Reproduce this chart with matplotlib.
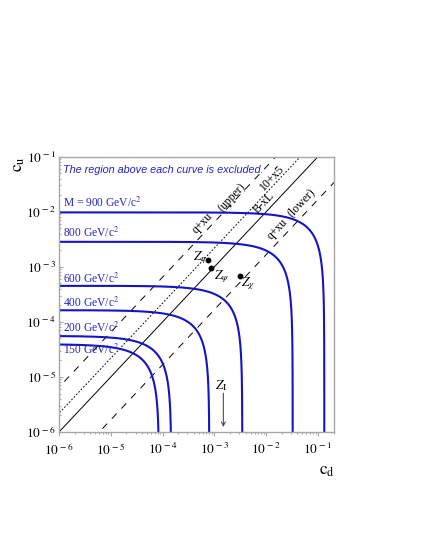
import numpy as np
import matplotlib
matplotlib.use("Agg")
import matplotlib.pyplot as plt
from matplotlib.ticker import LogLocator, FuncFormatter, NullFormatter

plt.rcParams['font.family'] = ['Liberation Serif', 'DejaVu Serif']
plt.rcParams['mathtext.fontset'] = 'stix'
plt.rcParams['lines.scale_dashes'] = False

# ---- data ----
masses = [900, 800, 600, 400, 200, 150]                 # GeV/c^2
cu_plateau = [9.75e-3, 2.85e-3, 4.52e-4, 1.63e-4, 5.56e-5, 3.93e-5]
cd_limit = [1.325e-1, 3.25e-2, 3.46e-3, 7.98e-4, 1.47e-4, 8.53e-5]

line_names = ["q+xu (upper)", "10+x5", "B-xL", "q+xu (lower)"]
line_ratio = [6.5, 2.19, 1.0, 1 / 6.0]                  # cu / cd
line_styles = ["dashed", "dotted", "solid", "dashed"]

model_names = [r"$Z_\eta$", r"$Z_\psi$", r"$Z_\chi$"]
model_cd = [7.7e-4, 8.6e-4, 3.12e-3]
model_cu = [1.32e-3, 9.35e-4, 6.78e-4]
zi_cd = 1.49e-3

xticks = [1e-6, 1e-5, 1e-4, 1e-3, 1e-2, 1e-1]
yticks = [1e-6, 1e-5, 1e-4, 1e-3, 1e-2, 1e-1]

blue = '#1414c4'
tblue = '#2424c8'
gray = '#a8a8a8'

fig = plt.figure(figsize=(4.25, 5.5), dpi=100)
ax = fig.add_axes([59 / 425, 1 - 432 / 550, 275 / 425, (432 - 156.7) / 550])
ax.set_xscale('log')
ax.set_yscale('log')
ax.set_xlim(1e-6, 0.204)
ax.set_ylim(1e-6, 1e-1)

# diagonal model lines
xx = np.logspace(-7, 0, 50)
for r, ls in zip(line_ratio, line_styles):
    if ls == 'dashed':
        kw = dict(linestyle=(0, (5, 5)))
    elif ls == 'dotted':
        kw = dict(linestyle=(0, (1.2, 1.3)))
    else:
        kw = dict(linestyle='-')
    ax.plot(xx, r * xx, color='black', lw=0.7, **kw)

# exclusion curves
s1 = 1 - np.logspace(-9, -0.3, 300)
s2 = np.logspace(-0.3, -8, 300)
s = np.concatenate([s1, s2])
for c0, d0 in zip(cu_plateau, cd_limit):
    ax.plot(d0 * (1 - s), c0 * s, color=blue, lw=1.5, solid_capstyle='butt')

# curve labels
lab_y = [1.23e-2, 3.47e-3, 5.1e-4, 1.87e-4, 6.6e-5, 2.59e-5]
for i, (m, yy) in enumerate(zip(masses, lab_y)):
    txt = (r"M = %d GeV/c$^{2}$" % m) if i == 0 else (r"%d GeV/c$^{2}$" % m)
    ax.text(1.19e-6, yy, txt, color=tblue, fontsize=8.3, ha='left', va='baseline')

ax.text(1.22e-6, 5.0e-2, "The region above each curve is excluded.", color=tblue,
        fontsize=7.8, style='italic', family=['Liberation Sans', 'DejaVu Sans'],
        ha='left', va='baseline')

# line labels
rot = 46.7
lab_pos = [(5.83e-4, 6.3e-3, "q+xu"), (2.16e-3, 1.83e-2, "(upper)"),
           (1.29e-2, 4.1e-2, "10+x5"), (9.27e-3, 1.47e-2, "B-xL"),
           (1.65e-2, 4.85e-3, "q+xu"), (4.77e-2, 1.45e-2, "(lower)")]
for x0, y0, t in lab_pos:
    ax.text(x0, y0, t, rotation=rot, rotation_mode='anchor', ha='center', va='center',
            fontsize=8.5, color='black')

# model points
ax.plot(model_cd, model_cu, 'o', color='black', ms=3.2, linestyle='none')
ax.text(5.27e-4, 1.44e-3, model_names[0], fontsize=9.5, ha='center', va='center')
ax.text(1.38e-3, 6.58e-4, model_names[1], fontsize=9.5, ha='center', va='center')
ax.text(4.52e-3, 4.99e-4, model_names[2], fontsize=9.5, ha='center', va='center')

# Z_I arrow
ax.annotate("", xy=(zi_cd, 1.23e-6), xytext=(zi_cd, 5.06e-6),
            arrowprops=dict(arrowstyle='->', color='0.3', lw=0.8, shrinkA=0, shrinkB=0,
                            mutation_scale=7))
ax.text(1.38e-3, 6.86e-6, r"$Z_{\rm I}$", fontsize=9.5, ha='center', va='center')

# axes styling
for sp in ax.spines.values():
    sp.set_color(gray)
    sp.set_linewidth(1.0)

fmt = FuncFormatter(lambda v, p: r"$10^{\,%d}$" % int(round(np.log10(v))))
ax.xaxis.set_minor_locator(LogLocator(base=10, subs=np.arange(2, 10), numticks=20))
ax.yaxis.set_minor_locator(LogLocator(base=10, subs=np.arange(2, 10), numticks=20))
ax.set_xticks(xticks)
ax.set_yticks(yticks)
ax.xaxis.set_major_formatter(fmt)
ax.yaxis.set_major_formatter(fmt)
ax.xaxis.set_minor_formatter(NullFormatter())
ax.yaxis.set_minor_formatter(NullFormatter())
ax.set_xlim(1e-6, 0.204)
ax.set_ylim(1e-6, 1e-1)
ax.tick_params(axis='x', which='major', direction='out', length=3.0, width=0.8,
               color=gray, labelsize=9.5, pad=4)
ax.tick_params(axis='x', which='minor', direction='out', length=1.7, width=0.8, color=gray)
ax.tick_params(axis='y', which='major', direction='in', length=3.0, width=0.8,
               color=gray, labelsize=9.5, pad=2)
ax.tick_params(axis='y', which='minor', direction='in', length=1.7, width=0.8, color=gray)

fig.text(19 / 425, 1 - 164 / 550, r"$\mathrm{c_u}$", rotation=90, fontsize=12.5,
         ha='center', va='center')
fig.text(335 / 425, 1 - 471 / 550, r"$\mathrm{c_d}$", fontsize=12.5, ha='right', va='center')

fig.savefig("out.png", dpi=100)
